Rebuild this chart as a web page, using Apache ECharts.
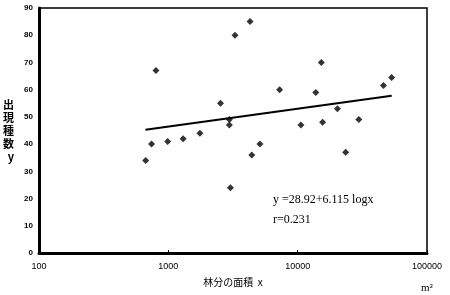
<!DOCTYPE html>
<html><head><meta charset="utf-8">
<script src="https://cdn.jsdelivr.net/npm/echarts@6/dist/echarts.min.js"></script>
<style>html,body{margin:0;padding:0;background:#fff}#c{width:450px;height:295px}</style>
</head><body><div id="c"></div>
<script>
const areas = [668, 742, 802, 989, 1301, 1753, 2532, 2966, 2966, 3020, 3277, 4285, 4418, 5108, 7256, 10600, 13810, 15240, 15600, 20300, 23500, 29700, 46050, 53300];
const species = [34, 40, 67, 41, 42, 44, 55, 49, 47, 24, 80, 85, 36, 40, 60, 47, 59, 70, 48, 53, 37, 49, 61.5, 64.5];
const lineX = [665, 53300];
const lineY = [45.3, 57.8];
const xTicks = [100, 1000, 10000, 100000];
const yTicks = [0, 10, 20, 30, 40, 50, 60, 70, 80, 90];

const chart = echarts.init(document.getElementById('c'), null, {renderer: 'canvas'});
chart.setOption({
  animation: false,
  backgroundColor: '#fff',
  grid: {left: 33, right: 23, top: 8, bottom: 42, show: true, borderColor: '#000', borderWidth: 1.5},
  xAxis: {
    type: 'log', logBase: 10, min: xTicks[0], max: xTicks[xTicks.length - 1],
    axisLine: {show: true, lineStyle: {color: '#000', width: 3}},
    axisTick: {show: true, inside: true, length: 3, lineStyle: {color: '#000'}},
    splitLine: {show: false},
    axisLabel: {color: '#000', fontSize: 9, fontFamily: 'Liberation Sans', margin: 9,
      formatter: v => String(Math.round(v))},
    name: '林分の面積  x', nameLocation: 'middle', nameGap: 24,
    nameTextStyle: {color: '#000', fontSize: 10, fontFamily: 'Noto Sans CJK JP'}
  },
  yAxis: {
    type: 'value', min: yTicks[0], max: yTicks[yTicks.length - 1], interval: 10,
    axisLine: {show: true, lineStyle: {color: '#000', width: 3}},
    axisTick: {show: false},
    splitLine: {show: false},
    axisLabel: {color: '#000', fontSize: 8, fontWeight: 'bold', fontFamily: 'Liberation Sans', margin: 6},
    name: '出\n現\n種\n数\ny', nameLocation: 'middle', nameGap: 25, nameRotate: 0,
    nameTextStyle: {color: '#000', fontSize: 11, fontWeight: 'bold', lineHeight: 13, fontFamily: 'Noto Sans CJK JP'}
  },
  series: [
    {type: 'scatter', symbol: 'diamond', symbolSize: 7, itemStyle: {color: '#000'},
     data: areas.map((a, i) => [a, species[i]])},
    {type: 'line', symbol: 'none', lineStyle: {color: '#000', width: 2},
     data: lineX.map((a, i) => [a, lineY[i]])}
  ],
  graphic: [
    {type: 'text', left: 273, top: 194, style: {text: 'y =28.92+6.115 logx', font: '12px "Liberation Serif"', fill: '#000'}},
    {type: 'text', left: 273, top: 214, style: {text: 'r=0.231', font: '12px "Liberation Serif"', fill: '#000'}},
    {type: 'text', left: 421, top: 283, style: {text: 'm²', font: '11px "Liberation Serif"', fill: '#000'}}
  ]
});
</script></body></html>
